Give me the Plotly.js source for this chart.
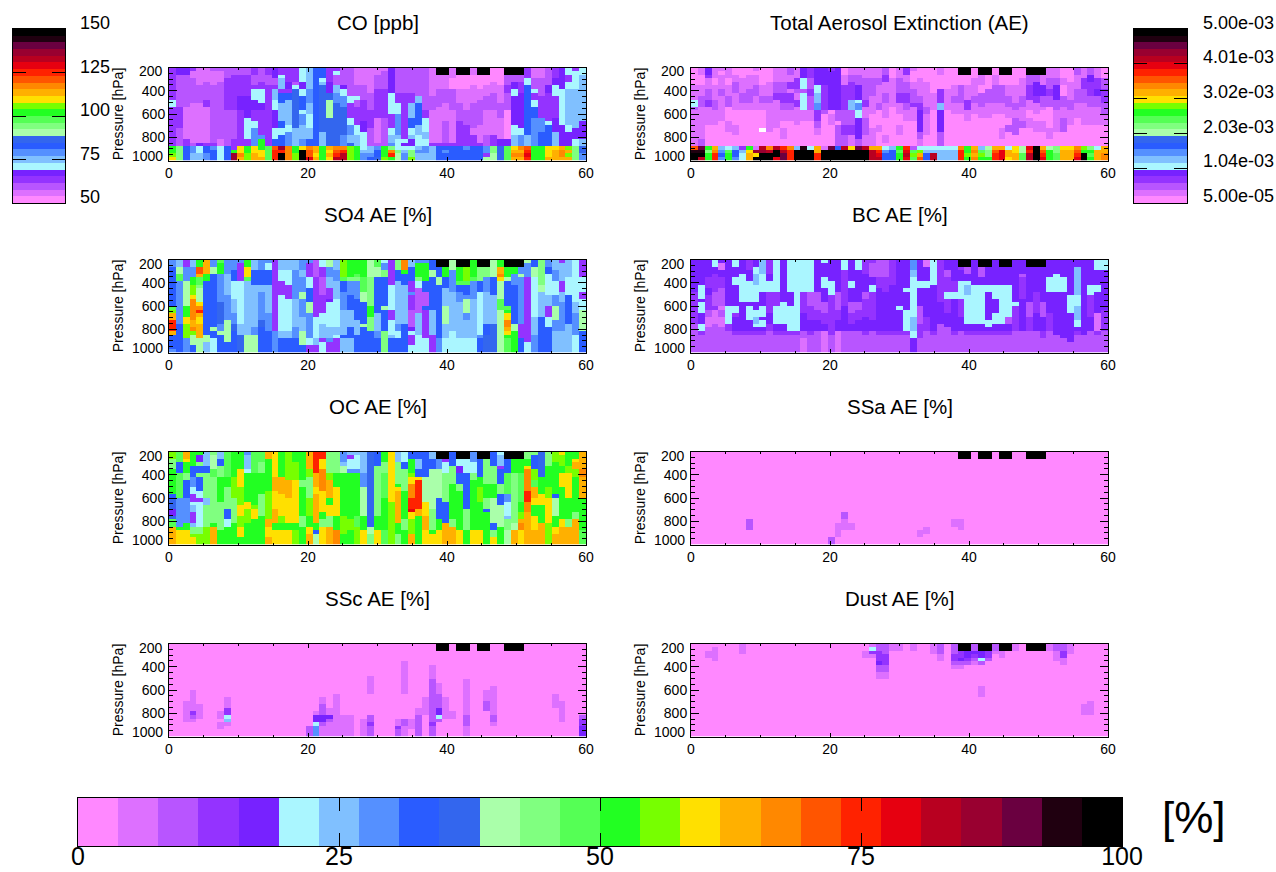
<!DOCTYPE html>
<html><head><meta charset="utf-8">
<script src="https://cdn.plot.ly/plotly-3.0.1.min.js"></script>
<style>html,body{margin:0;padding:0;background:#fff}#chart{width:1276px;height:872px}</style>
</head><body><div id="chart"></div>
<script>
// 26 colour classes, a (lowest) .. z (highest); '_' = no colour (white)
const levelColors = ["#ff88ff","#dd70ff","#b855ff","#9433ff","#7722ff","#aaf6ff","#80c0ff","#5590ff","#2a5cff","#3366ee","#aaffaa","#80ff80","#55ff55","#22ff22","#77ff00","#ffe000","#ffb000","#ff8800","#ff5500","#ff2200","#e60010","#b80020","#990030","#6a0040","#200010","#000000"];

// Each string is a column (x = 0..60) read top to bottom, run-length coded: class letter + number of rows
const coUpper = ["d9f2d11","e2c9d6c5","e2c9b9d2","d1b2c7b11c1","b5c5b11e1","b4c5d2b10d1","c1b4c16d1","c1b3c16b2","c3d9c10","c2d10c8d2","c2d6e4d10","c2d6e6f6d2","d2c3d1f3e3d3f2h5","c4d2f4e2d7h1n2","d2c3d17","e3c2d1g3f3e5f3i2","d2f1g3d1i3g5i2f2i3","d4e2d1i2g7f2h4","d4c1f1j11g5","f4e2f2i4f1h3g4h2","g6h4g3f4g3i2","i22","i3f1g1j13g4","d4e3j2k5j8","d1f1c3g2h3j12","c5e1f2h3j8h3","c8f2d4f2h3g2j1","b5c3f1c2d5f3g3","b5c4d6e3f4","b7c5d5c5","b2c4d8b7c1",
"b1c5d8c8","e7f6d4f2g2h1","c7d3f3h6g1f2","c7d13f1e1","c7d3g4i3f2g1e2","c8g2i6g3f3","c12d2f4g2f2","b8c4b9d1","z2b4c5b10d1","z2b4c4b5c6d1","b3a3c6b9d1","z2a4b4c5d7","z2a4b6c4d6","b2a3b5c7b2d3","z2a4b3c7b5d1","z2a3b3c4b7c1","a4b3c5b7d3","a5b5c4b6e2","z2c3d2c5a8e2","z2c2e2f2e8f3g3","z2c2d3e10f2h3","d3f2i14g3","b3c3f1d2f2i3h8","b3c5d6h4i4","c5e2d8f1i6","d3e2f3d6e4g4","e6f10e6","f2d2f2g10f2e4","d1f5g11e3f2","f2g13e5g2"];
const coBand = ["nnop","llll","iiii","hhgg","ffgg","iihh","hiii","ffff","iiii","dnww","pprq","nnoo","ppqq","nppq","mmmm","sttt","wtzz","rrrr","nnoo","pzzz","rssu","qqpq","nnnn","qpqp","rstv","rtvv","oooo","nnnn","fghh","gghi","hiij",
"nnno","lrtn","flkk","fghh","fllo","ghgg","hhgg","gggg","iiii","ihii","iiii","iiii","hiii","iiii","iiii","hhdk","llkk","jjjj","mmmm","pqrq","rqrq","stut","nnnn","nnnn","pppq","pqqq","qrrq","oqoq","llll","jjhh"];

const aeUpper = ["a5b4f2c1b10","b2a3b3c3b9c2","e2d1b3c3d2b5a6","b3a2b4c3b4a6","b1a1b4c2b4b3a7","b3a2b3c3a4b3a4","a2b2c3b5a4b3a3","a3b4c3b2a10","a2b4c4b2a10","b1a1b3c3b4a10","a5b3c2b2a5_1a4","a4b4c2b6b2a4","b4c3d2b5b3a5","b4c3d3c2b3a2b3a2","c2b2d2b1d3c2b3a7","b3d3c1b2d2b3b2a6","e3f3c1f5b3a7","d3c3d2c4b3a7","e5f2g3h2d3c2b2a3","e5d7c1a9","d1e11a1b3a6","e12c3a1c6","a2b3d7c4d3c3","b2c2d5g3c4d3b3","b2c3e4f1h2f2e6c2","b3c6d2b3c5b3","b3c5b5a4b5","b3c2b5c2a4b2a4","c2d2b3c3b4a5b2a1","a3b8a11","b3c4d3b3a3b3a3",
"d2b2c3d3c2b3a7","b1a3b2c4d1b4a7","a3b5c2d2e6c2b2","a4b7c2b6a3","a7b5a10","b2a4d4g2e6c4","a6b6a10","a5b3c2b3a9","z2a3c5b3a9","z2a3b4d3b3a7","a3b5c2b3a9","z2b3a2c4b3a8","z2a4c4b4a8","a2b3c5b3a9","z2a3c5b3a4b3a2","z2a3b3c3b3a2c2a4","a5b5c2b2c5a3","a3b5c3b4c2a5","z2c3d4b3a2b3a5","z2c2e4d2b3a2b3a4","z2b3e3c3b1a3b3a4","b3c3d2c3a6b3a2","b3c2e4c3b6a4","a3b2a3c3b3c4a4","a4b5c3b4a6","c2b4c4b4a8","b3d3c4b6a6","c2e2d4c3b5a6","b3d3e2c3b5a6","a3c3d4c3b3a6"];
const aeBand = ["syzz","xyzv","nlnn","qrtt","ghih","fmnn","giih","dgff","npqq","bwpz","vwzz","rvzz","vzzu","tvxx","rttt","gzzz","yzzz","fzzz","qqtt","bzzz","xzzz","izzz","vzzz","pzzz","xzzz","vzzz","qvvv","qtuv","fhii","giii","nmnn",
"tuvu","cmom","foqs","fgii","fgvv","fggg","fggg","fggg","rttt","nnon","qrqr","gmon","klln","qstt","quuu","fqqp","ppqq","kkmm","utvv","zzzz","qstu","knnn","llmm","pqqq","pqqq","rstu","onzz","lnmn","fqqq","qqrr"];

const so4Cols = ["h2i11m1o1q2t3q1i4h1","g2k2m2h12i8","d2h4k7n3p2o4h4","g2h3n2o3p1r6q2r1o1k3i2","n2s2q1m2l1k4p1r1t1q1p2q4k4","q4n2i15k2g3","h2k2i15k1i2f4","m1n3h8j6h2k1i5","h4g6h7k6i3","h3i3f5g4h3j2i6","h1d5f12g3j5","n2p3m1g15k5","g3i4g12h2k5","h3i4g2h8j2i7","h1f2i4g8h5i6","d20h6","g3f3d4f10g2i4","g3f4d4f9g2i4","g3h8g8h3i4","h3g2h4k2h5g4k4i2","h1d4f3i4k3h7f2d2","c5d11f6g2d2","f2d3c5d5f3g4d1f3","k2h3g3d3e1f7g3h1d3","g3h3g5f8g2f1d4","o5m1i3h5g7i1g4","n5l1h4i4g5i3g4","n4m1l1h5i6g4i5","n5m4k3i6k1i7","k5l8n3l4i6",
"m2k3i10g5h2i4","f1h2l2i8k1i6l6","d7f7d3f4g1i4","l3i3g12h2f2i4","r3n1i3g11i8","g2i4d3h1d4c5e1f1d3f2","h1n4l1f2c7g6f5","h1n5i3c4i1d8f4","i3k2i9g7d5","z2i3k2i15h2","z2n3i3g5k5g4f4","k3h3h3g6g5f6","z2n4m1i2h3g10f4","z2o4m1i3h1k4h2g5f4","n5m1h5g11f4","z2l4i3f12h1i4","z2l3h4g9i3j5","k5i5g8j8","n2q2r1p1k5m3k12","z2n3k1i7m1n1p2r2q1p1n1m4","z2n2h3i11k2n6","z2h2k1h13d4i4","k1h4d18f3","i2k3f11g5h5","l7k2g7i10","h2i2f6g3d3f3i7","g3h3f4h3k4h3g6","d1g5d3g3h8g6","g5f5i8g8","f12g3h6f5","d5f4d2f3k6i6"];

const bcCols = ["e9d7d2c8","e7f4e1f3e3f2d1c5","e5d3e2d4c2b3c7","f2e2d5c4d1b4c8","e1b2e2d3c5b1c2b3c7","e13f5d2c6","f2e3f2e6f2d1e4d1c5","e4f8e8d1c5","d3e3f6e1f4e3d1c5","e2f2g3f5e2f2g2f1e1d1c5","g4f5e4f3e1f2e1d1c5","d4e2f3d6e3d2c6","f9d4f5e2d1c5","e12f6e2d1c5","f9e4f7d1c5","f20d1c5","f9d6e5c2b4","f9c4d4e3d1c5","e9c5d3e3c6","f1e4f3e4c3d3e2b6","e6f4d10d1c5","e9c5d3e3b6","f3d4d6e7c6","e6f2e4c3d3e2c6","f3e9c2d3e3c6","d4e5c2d5e4d1c5","d1c4e2f2d5d3e3c6","c5d3e12d1c5","c5d4e11d1c5","d7e13d1c5",
"e13f1e6d1c5","e8f1e5f6d1c5","h3g2f11g4f2e4","e6f2e5c5d4c4","b2e4f2e8d4c6","f7e13d1c5","d7d5e6c8","e3c2d4f2d4e4c7","e6d3f2e9d1c5","z2d1e3f5d5e4c6","z2c2e2f1g3f8e2d1c5","e7f11e2d1c5","z2c3e2f11e2d1c5","z2e5f2e8f2e1d1c5","e7f4e4f3e2d1c5","z2e5f11e2d1c5","z2e5f9c2e2d1c5","e12f1d7c6","e4c1d6e9c6","z2e10c4d4c6","z2e7d1d5e5c6","z2e10c4e4d2c4","e5f4e6d5c6","e4f5e11e1c5","e5f4e11e2c4","e10f5e6e2c3","e2g8f3g4f2e1d1c5","e20e1c5","e7f3d6e4c6","f3e4f2e5e1b5d1c5","f3e11d6c6"];

const ocCols = ["o2l3n7i1j3e2j1m2q5","m3i3m7h8n1p4","q2p1n3l2i5h7n2p4","n4i3h3f2d2f1g2d3g1l2o1p2","n1e2l1i2l1i4f2d1f7l2o3","g4i2l7g2l6o5","l1k4m2l13n1q5","g2i2l3n7l8n4","m7n3l6i3f2n5","n7o6l7n6","n5p5o5p3o3p3n2","h1g4f1n8p2o4n6","m6n9o1p3n7","m3l3n6l6n8","q2n3n6o8q2p3q2","p7q4p5q4n2p4","n7q5p6o2n2p4","o8q5p7n2p4","n3o5p12n2o4","n8l2n8l3n5","q5o2l6o5n3p2q3","t6q4p2q8n2i1k3","t2p3r6p6n2l2p5","l6o2q5n2p3l3q5","l6n4p8n4r4","h3g1k2n12o5n3","g1d1f3h1n13o3n4","g1f4h1n12m3o5","g6h4k8n4p4","j21k2l3",
"i4l14n4p4","n3l3m7n9m4","p14o12","g3l6n1p1q9n3l3","f3i2l6n8l3n4","i2n4o1p2r4t3u1p2o4q3","i2g3i2p1t8q2n8","i7k7p4q4p4","g2i3k11l6n1p3","z2h3k8i6n3p4","z2d1f3l8i6q6","i4l5n10l2q5","z2f2e2i3l2n11p4","z2f4i10l6n4","h3f3l2n14p4","z2i5n3o4n8p4","z2l7n4l3i1n9","i4l5n4k7i2l2p2","f1g3d1i4l3i3k6n5","z2i4m6h2f4g1l3k4","z2n4l14k2q4","z2n4m8n3o2q1r2p4","l2n2p1r6t3r3q9","l1i4o3m2q3p2n3p4q4","j7n5p3n5q6","l4n6o3p7o6","o3n4n5i1k5n3p2q3","p1o3n2p4n9p2q5","n4o2p7n6l2q5","n2p1q2o2n10l2q7","q5r2q6n9m4"];

const ssaCols = ["a26","a26","a26","a26","a26","a26","a26","a26","a19c3a4","a26","a26","a26","a26","a26","a26","a26","a26","a26","a26","a26","a24c2","a20b4a2","a17c2b3a4","a20b2a4","a26","a26","a26","a26","a26","a26",
"a26","a26","a26","a22b2a2","a21b2a3","a26","a26","a26","a19b2a5","z2a17b3a4","z2a24","a26","z2a24","z2a24","a26","z2a24","z2a24","a26","a26","z2a24","z2a24","z2a24","a26","a26","a26","a26","a26","a26","a26","a26","a26"];

const sscCols = ["a26","a26","a16b6a4","a13b6d1c1b1a4","a17b4a5","a26","a26","a19b2a1b2a2","a15b3d2f1g1b1a3","a26","a26","a26","a26","a26","a26","a26","a26","a26","a26","a26","a23c3","a19b1e2f1h3","a15b2c3e2c1b3","a18b2e1c1b4","a14b12","a20b6","a20b6","a26","a21b5","a9b5a6c2d1c3",
"a26","a26","a26","a21b2d1c2","a5b9a7c2b3","a21b3a2","a18b2c6","a15b5a6","a6b4c12d1c3","z2a9b3c4e2f1c1a4","z2a13b6a5","a19b2a5","z2a24","z2a8b10c3b3","a26","z2a24","z2a11b3c3a7","a12b8c2b1a3","a26","z2a24","z2a24","z2a24","a26","a26","a26","a26","a14b4a8","a16b6a4","a26","a26","a20c1d2e3"];

const dustCols = ["a26","a26","a2b2a22","a1b4a21","a26","a26","a26","b3a23","a26","a26","a26","a26","a26","a26","a26","a26","a26","a26","a26","a26","a26","a26","a26","a26","a26","a2b2a22","b1f1d1b1a22","c2d3e1c2b2a16","c3d3c2b2a16","b2a24",
"b2a24","a26","b2a24","a26","a26","b3a23","c3b2a21","a26","c3d2c1b1a19","z2d2e1c1b1a19","z2e2d1c1a20","c2e1d1c1b1a20","z2e2f1c1a6b3a10","z2d2c1a21","c2b1a23","z2b2a22","z2a24","b2a24","a26","z2a24","z2a24","z2a24","b2a24","c2b3a21","c2d2b2a20","b3a23","a26","a17b3a6","a16b4a6","a26","a26"];

const panelTitles = ["CO [ppb]","Total Aerosol Extinction (AE)","SO4 AE [%]","BC AE [%]","OC AE [%]","SSa AE [%]","SSc AE [%]","Dust AE [%]"];
const pressureTicks = [200,400,600,800,1000];
const timeTicks = [0,20,40,60];
const coBarLabels = ["150","125","100","75","50"];
const coBarTicks = [150,125,100,75,50];
const aeBarLabels = ["5.00e-03","4.01e-03","3.02e-03","2.03e-03","1.04e-03","5.00e-05"];
const aeBarTicks = [5.00e-3,4.01e-3,3.02e-3,2.03e-3,1.04e-3,5.00e-5];
const pctTicks = [0,25,50,75,100];

const W=1276,H=872,FONT='"Liberation Sans", Arial, Helvetica, sans-serif';
const NC=levelColors.length,NROW=26,NCOL=61;
const scale=[];levelColors.forEach((c,i)=>{scale.push([i/NC,c]);scale.push([(i+1)/NC,c]);});
function runs(s,n){const o=[];for(const m of s.matchAll(/([a-z_])(\d*)/g)){const k=m[2]?+m[2]:1;for(let j=0;j<k;j++)o.push(m[1]);}
  while(o.length<n)o.push(o[o.length-1]);return o.slice(0,n);}
function grid(cols,lo,hi){const z=[];for(let r=0;r<NROW;r++)z.push(new Array(NCOL).fill(null));
  cols.forEach((col,c)=>col.forEach((ch,r)=>{z[r][c]=ch==='_'?null:lo+(ch.charCodeAt(0)-97+.5)*(hi-lo)/NC;}));return z;}
const pct=a=>a.map(s=>runs(s,NROW));
const joined=(u,b)=>u.map((s,i)=>runs(s,22).concat(b[i].split('')));
const panels=[
 {z:grid(joined(coUpper,coBand),50,150),lo:50,hi:150},
 {z:grid(joined(aeUpper,aeBand),5e-5,5e-3),lo:5e-5,hi:5e-3},
 {z:grid(pct(so4Cols),0,100),lo:0,hi:100},
 {z:grid(pct(bcCols),0,100),lo:0,hi:100},
 {z:grid(pct(ocCols),0,100),lo:0,hi:100},
 {z:grid(pct(ssaCols),0,100),lo:0,hi:100},
 {z:grid(pct(sscCols),0,100),lo:0,hi:100},
 {z:grid(pct(dustCols),0,100),lo:0,hi:100}];
const xEdges=Array.from({length:NCOL+1},(_,i)=>60*i/NCOL);
const yEdges=Array.from({length:NROW+1},(_,i)=>200+800*i/NROW);
const colX=[[169,586],[691,1108]],rowY=[[67.5,160.5],[259.5,352.5],[451.5,544.5],[643.5,736.5]];
const dx=a=>[a[0]/W,a[1]/W],dy=a=>[1-a[1]/H,1-a[0]/H];
const data=[],ann=[];
const layout={width:W,height:H,margin:{l:0,r:0,t:0,b:0},paper_bgcolor:'#fff',plot_bgcolor:'#fff',showlegend:false,font:{family:FONT,color:'#000'}};
const LINE={showline:true,linecolor:'#000',linewidth:1,mirror:'ticks',ticks:'inside',tickcolor:'#000',zeroline:false,showgrid:false,fixedrange:true};
const label=(text,x,y,size,xa,ya,rot)=>ann.push({text,x:x/W,y:1-y/H,xref:'paper',yref:'paper',xanchor:xa||'center',yanchor:ya||'middle',showarrow:false,font:{size,family:FONT,color:'#000'},textangle:rot||0});
panels.forEach((p,i)=>{
  const n=i+1,c=i%2,r=(i-c)/2;
  data.push({type:'heatmap',x:xEdges,y:yEdges,z:p.z,zmin:p.lo,zmax:p.hi,colorscale:scale,showscale:false,hoverinfo:'skip',xaxis:'x'+n,yaxis:'y'+n});
  layout['xaxis'+n]=Object.assign({},LINE,{domain:dx(colX[c]),anchor:'y'+n,range:[0,60],tickvals:timeTicks,ticklen:4,tickwidth:1,tickfont:{size:14,family:FONT,color:'#000'},minor:{dtick:5,ticks:'inside',ticklen:2,tickcolor:'#000'}});
  layout['yaxis'+n]=Object.assign({},LINE,{domain:dy(rowY[r]),anchor:'x'+n,range:[1000,200],tickvals:pressureTicks,ticktext:pressureTicks.map(v=>(v===200||v===1000)?'':String(v)),ticklen:8,tickwidth:1,tickfont:{size:14,family:FONT,color:'#000'},minor:{dtick:50,ticks:'inside',ticklen:4,tickcolor:'#000'},title:{text:'Pressure [hPa]',standoff:14,font:{size:14,family:FONT,color:'#000'}}});
  label(panelTitles[i],(colX[c][0]+colX[c][1])/2,rowY[r][0]-45,20.5);
  label('200',colX[c][0]-4,rowY[r][0]+4,14,'right');
  label('1000',colX[c][0]-4,rowY[r][1]-5,14,'right');
});
// colour bars
const classEdges=Array.from({length:NC+1},(_,i)=>i/NC);
function bar(n,vals,dom,vertical,lo,hi){
  const mid=classEdges.slice(0,-1).map((e,i)=>lo+(i+.5)*(hi-lo)/NC);
  const edge=classEdges.map(e=>lo+e*(hi-lo));
  data.push(vertical?{type:'heatmap',x:[0,1],y:edge,z:mid.map(v=>[v]),zmin:lo,zmax:hi,colorscale:scale,showscale:false,hoverinfo:'skip',xaxis:'x'+n,yaxis:'y'+n}
    :{type:'heatmap',x:edge,y:[0,1],z:[mid],zmin:lo,zmax:hi,colorscale:scale,showscale:false,hoverinfo:'skip',xaxis:'x'+n,yaxis:'y'+n});
  const off={showline:true,linecolor:'#000',linewidth:1,mirror:true,ticks:'',showticklabels:false,zeroline:false,showgrid:false,fixedrange:true};
  const on=Object.assign({},LINE,{linewidth:1,mirror:'ticks',tickvals:vals,ticklen:13,tickwidth:1,showticklabels:false});
  layout['xaxis'+n]=Object.assign({},vertical?off:on,{domain:dx(dom[0]),anchor:'y'+n,range:vertical?[0,1]:[lo,hi]});
  layout['yaxis'+n]=Object.assign({},vertical?on:off,{domain:dy(dom[1]),anchor:'x'+n,range:vertical?[lo,hi]:[0,1]});
}
bar(9,coBarTicks,[[13,65],[29,203]],true,50,150);
bar(10,aeBarTicks,[[1134,1187],[29,203]],true,5e-5,5e-3);
bar(11,pctTicks,[[78,1122],[797.5,846]],false,0,100);
Object.assign(layout.xaxis11,{showticklabels:true,tickfont:{size:25,family:FONT,color:'#000'},tickmode:'array'});
layout.xaxis11.ticklabelstandoff=-12;
coBarLabels.forEach((t,i)=>label(t,78,29+(150-coBarTicks[i])/100*174-6,18,'left'));
aeBarLabels.forEach((t,i)=>label(t,1201,[23,57,92,127,161,196][i],18,'left'));
label('[%]',1194,817,44);
layout.annotations=ann;
Plotly.newPlot('chart',data,layout,{staticPlot:true,displayModeBar:false});
</script></body></html>
